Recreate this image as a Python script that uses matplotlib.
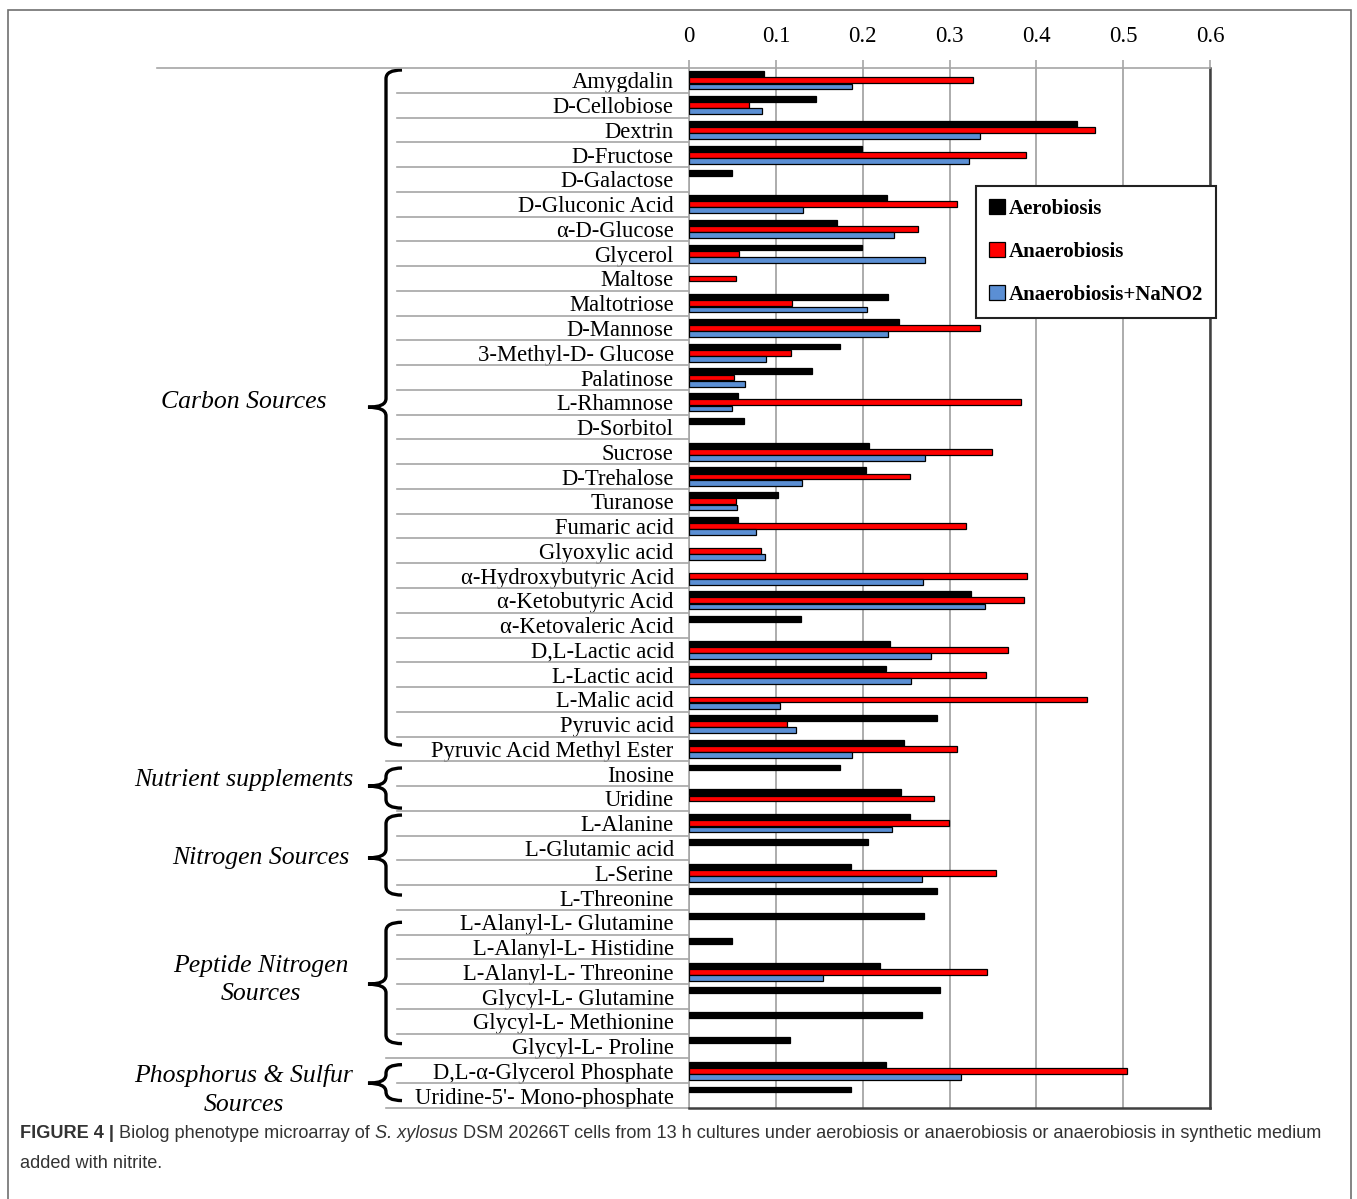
import numpy as np
import matplotlib
matplotlib.use('Agg')
import matplotlib.pyplot as plt
from matplotlib.path import Path
from matplotlib.patches import PathPatch, Patch, Rectangle
from matplotlib.transforms import blended_transform_factory

nan = np.nan

substrates = [
    'Amygdalin', 'D-Cellobiose', 'Dextrin', 'D-Fructose', 'D-Galactose',
    'D-Gluconic Acid', 'α-D-Glucose', 'Glycerol', 'Maltose', 'Maltotriose',
    'D-Mannose', '3-Methyl-D- Glucose', 'Palatinose', 'L-Rhamnose',
    'D-Sorbitol', 'Sucrose', 'D-Trehalose', 'Turanose', 'Fumaric acid',
    'Glyoxylic acid', 'α-Hydroxybutyric Acid', 'α-Ketobutyric Acid',
    'α-Ketovaleric Acid', 'D,L-Lactic acid', 'L-Lactic acid', 'L-Malic acid',
    'Pyruvic acid', 'Pyruvic Acid Methyl Ester', 'Inosine', 'Uridine',
    'L-Alanine', 'L-Glutamic acid', 'L-Serine', 'L-Threonine',
    'L-Alanyl-L- Glutamine', 'L-Alanyl-L- Histidine', 'L-Alanyl-L- Threonine',
    'Glycyl-L- Glutamine', 'Glycyl-L- Methionine', 'Glycyl-L- Proline',
    'D,L-α-Glycerol Phosphate', "Uridine-5'- Mono-phosphate",
]

aerobiosis = [
    0.086, 0.146, 0.447, 0.199, 0.050, 0.228, 0.170, 0.199, nan, 0.229,
    0.242, 0.174, 0.142, 0.056, 0.063, 0.207, 0.204, 0.102, 0.057, nan,
    nan, 0.325, 0.129, 0.231, 0.227, nan, 0.286, 0.248, 0.174, 0.244,
    0.254, 0.206, 0.187, 0.286, 0.271, 0.049, 0.220, 0.289, 0.268, 0.116,
    0.227, 0.186,
]
anaerobiosis = [
    0.327, 0.069, 0.467, 0.388, nan, 0.309, 0.264, 0.058, 0.054, 0.119,
    0.335, 0.117, 0.052, 0.382, nan, 0.349, 0.254, 0.054, 0.319, 0.083,
    0.389, 0.386, nan, 0.367, 0.342, 0.458, 0.113, 0.309, nan, 0.282,
    0.299, nan, 0.353, nan, nan, nan, 0.343, nan, nan, nan,
    0.504, nan,
]
anaerobiosis_nano2 = [
    0.188, 0.084, 0.335, 0.323, nan, 0.131, 0.236, 0.272, nan, 0.205,
    0.229, 0.089, 0.065, 0.050, nan, 0.272, 0.130, 0.055, 0.077, 0.087,
    0.269, 0.341, nan, 0.279, 0.256, 0.105, 0.123, 0.188, nan, nan,
    0.234, nan, 0.268, nan, nan, nan, 0.154, nan, nan, nan,
    0.313, nan,
]

series_names = ['Aerobiosis', 'Anaerobiosis', 'Anaerobiosis+NaNO2']
series_colors = ['#000000', '#ff0000', '#5b8fd4']

# groups: label, label x (px), label row, brace top, brace bottom, brace tip
groups = [
    ('Carbon Sources', 244, 13.0, -0.42, 26.84, 13.2),
    ('Nutrient supplements', 244, 28.26, 27.77, 29.39, 28.5),
    ('Nitrogen Sources', 261, 31.41, 29.67, 32.90, 31.4),
    ('Peptide Nitrogen\nSources', 261, 36.33, 34.0, 38.9, 36.5),
    ('Phosphorus & Sulfur\nSources', 244, 40.78, 39.75, 41.2, 40.5),
]

W, H = 1357, 1199
fig = plt.figure(figsize=(W / 100, H / 100), dpi=100)

serif = 'Liberation Serif'
grid_gray = '#a6a6a6'

# plot area in pixels
px0, px1, py0, py1 = 689, 1210, 68, 1108
ax = fig.add_axes([px0 / W, 1 - py1 / H, (px1 - px0) / W, (py1 - py0) / H])

def xa(px):
    return (px - px0) / (px1 - px0)

n = len(substrates)
y = np.arange(n)
bar_h = 0.235
offsets = [-0.25, 0.0, 0.25]
for vals, off, col, name in zip([aerobiosis, anaerobiosis, anaerobiosis_nano2],
                                offsets, series_colors, series_names):
    vals = np.array(vals, dtype=float)
    m = ~np.isnan(vals)
    ax.barh(y[m] + off, vals[m], height=bar_h, color=col,
            edgecolor='black', linewidth=0.9, zorder=3)

ax.set_xlim(0, 0.6)
ax.set_ylim(n - 0.5, -0.5)

ax.set_xticks(np.arange(0, 0.61, 0.1))
ax.set_xticklabels(['0', '0.1', '0.2', '0.3', '0.4', '0.5', '0.6'])
ax.xaxis.tick_top()
ax.tick_params(axis='x', length=6, width=1.2, color=grid_gray, pad=9,
               labelsize=16.5, labelfontfamily=serif)
ax.xaxis.grid(True, color=grid_gray, linewidth=1.3, zorder=0)

ax.set_yticks(y)
ax.set_yticklabels(substrates)
ax.tick_params(axis='y', length=0, pad=11, labelsize=16.3,
               labelfontfamily=serif)

for side in ['left', 'top']:
    ax.spines[side].set_color(grid_gray)
    ax.spines[side].set_linewidth(1.2)
for side in ['right', 'bottom']:
    ax.spines[side].set_color('#404040')
    ax.spines[side].set_linewidth(1.8)

trans = blended_transform_factory(ax.transAxes, ax.transData)

# category separators to the left of the axis
long_rows = {27.5, 39.5}
for b in np.arange(n - 1) + 0.5:
    x_start = xa(386) if b in long_rows else xa(397)
    ax.plot([x_start, 0], [b, b], transform=trans, color=grid_gray,
            linewidth=1.2, clip_on=False)
ax.plot([xa(386), 0], [n - 0.5, n - 0.5], transform=trans, color=grid_gray,
        linewidth=1.2, clip_on=False)
ax.plot([xa(157), 0], [-0.5, -0.5], transform=trans, color=grid_gray,
        linewidth=1.2, clip_on=False)

# curly braces and group labels
xs, xh, xt = xa(386), xa(402), xa(368)
for label, lx, ly, ya, yb, ym in groups:
    r = 0.35
    verts = [(xh, ya), (xs, ya), (xs, ya + r), (xs, ym - r), (xs, ym),
             (xt, ym), (xs, ym), (xs, ym + r), (xs, yb - r), (xs, yb),
             (xh, yb)]
    codes = [Path.MOVETO, Path.CURVE3, Path.CURVE3, Path.LINETO,
             Path.CURVE3, Path.CURVE3, Path.CURVE3, Path.CURVE3,
             Path.LINETO, Path.CURVE3, Path.CURVE3]
    ax.add_patch(PathPatch(Path(verts, codes), facecolor='none',
                           edgecolor='black', linewidth=2.4,
                           transform=trans, clip_on=False))
    ax.text(xa(lx), ly, label, transform=trans, ha='center',
            va='center', fontsize=18.5, fontstyle='italic', family=serif,
            linespacing=1.4)

handles = [Patch(facecolor=c, edgecolor='black', linewidth=0.9)
           for c in series_colors]
leg = ax.legend(handles, series_names, loc='upper left',
                bbox_to_anchor=(xa(976), 1 - (186 - py0) / (py1 - py0)),
                frameon=True, fancybox=False, framealpha=1,
                borderaxespad=0, handlelength=0.75, handleheight=0.75,
                handletextpad=0.2, labelspacing=1.1, borderpad=0.62,
                prop={'family': serif, 'weight': 'bold', 'size': 15})
leg.get_frame().set_edgecolor('#222222')
leg.get_frame().set_linewidth(1.5)
leg.set_zorder(5)

# outer frame
fig.add_artist(Rectangle((8 / W, -0.02), (1351 - 8) / W, 1.02 - 10 / H,
                         transform=fig.transFigure, fill=False,
                         edgecolor='#707070', linewidth=1.2))

# caption with mixed styles
renderer = fig.canvas.get_renderer()
cap_kw = dict(family='Liberation Sans', fontsize=13.1, color='#333333',
              va='center', ha='left')

def draw_runs(runs, x, yf):
    for s, style in runs:
        t = fig.text(x, yf, s, **style, **cap_kw)
        x += t.get_window_extent(renderer).width / fig.bbox.width

draw_runs([('FIGURE 4 |', {'weight': 'bold'}),
           (' Biolog phenotype microarray of ', {}),
           ('S. xylosus', {'style': 'italic'}),
           (' DSM 20266T cells from 13 h cultures under aerobiosis or '
            'anaerobiosis or anaerobiosis in synthetic medium', {})],
          20 / W, 1 - 1134 / H)
draw_runs([('added with nitrite.', {})], 20 / W, 1 - 1163 / H)

fig.savefig('out.png', dpi=100)
